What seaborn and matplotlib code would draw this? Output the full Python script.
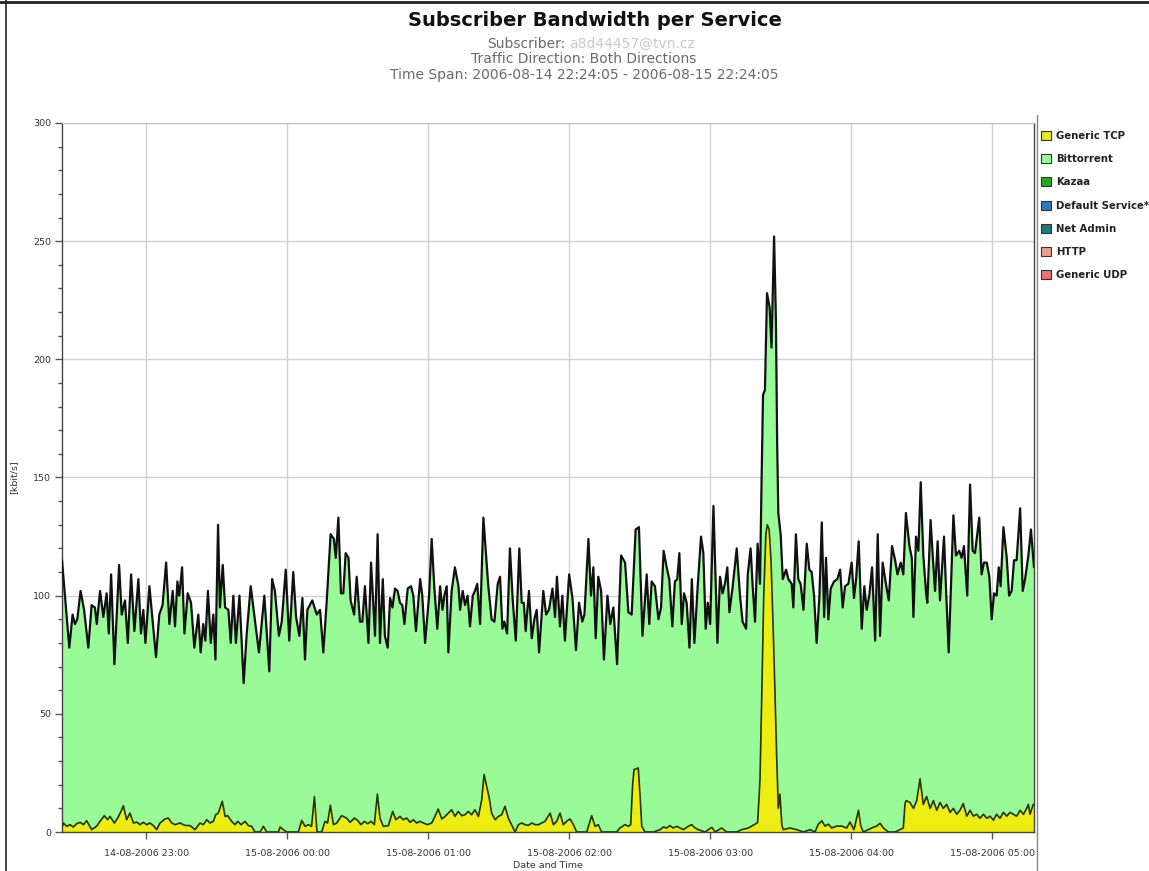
import matplotlib.pyplot as plt
import matplotlib.dates as mdates
import pandas as pd
import seaborn as sns
from matplotlib.lines import Line2D
from matplotlib.patches import Patch
from matplotlib.ticker import MultipleLocator

# time axis: minutes after the start of the window
start = pd.Timestamp("2006-08-14 22:24:05")
span_minutes = 413.6

# top of the stack (Generic TCP + Bittorrent), kbit/s
total_minutes = [
    0, 3.1, 4.5, 5.5, 6.5, 7.9, 9.4, 11.2, 12.6, 14.0,
    14.8, 16.2, 17.6, 19.0, 19.9, 20.9, 22.3, 24.3, 25.4, 26.8,
    28.0, 29.4, 30.8, 32.5, 33.6, 34.6, 35.5, 37.2, 38.6, 40.0,
    41.4, 42.8, 44.3, 45.7, 47.1, 48.1, 49.1, 49.9, 51.1, 52.1,
    53.5, 54.9, 56.3, 58.0, 59.0, 60.1, 61.0, 62.1, 63.3, 64.4,
    65.3, 66.4, 67.2, 68.4, 69.4, 70.8, 71.8, 72.9, 74.0, 75.5,
    77.3, 78.6, 80.3, 81.8, 83.8, 86.1, 88.2, 89.4, 90.6, 92.3,
    93.5, 95.2, 96.7, 98.4, 99.6, 101.0, 102.3, 103.4, 104.4, 106.5,
    108.4, 109.8, 111.2, 112.6, 114.3, 115.7, 116.5, 117.6, 118.7, 119.7,
    120.7, 121.9, 122.8, 124.3, 125.4, 126.8, 127.8, 128.9, 130.4, 131.5,
    133.2, 134.3, 135.3, 136.5, 137.4,
    138.6, 139.6, 140.6, 141.7, 142.8, 143.8, 144.8, 145.7, 147.1, 148.5,
    149.5, 150.6, 152.4, 153.3, 154.5, 156.2, 157.3, 158.4, 159.7, 160.9,
    161.9, 162.7, 163.7, 164.4, 165.8, 167.2, 168.7, 169.4, 170.5, 171.5,
    172.6, 173.6, 174.8, 175.7, 176.7, 177.9, 179.3, 180.3, 181.4, 182.8,
    184.0, 185.4, 186.4, 187.4, 188.2, 189.4, 190.6, 191.8, 193.1, 194.6,
    195.6, 196.5, 197.3, 198.7, 199.9, 201.0, 202.0, 203.0, 204.8, 206.0,
    207.2, 208.7, 209.8, 210.6, 211.9, 212.9, 214.0, 215.8, 217.2, 218.7,
    220.0, 221.4, 222.3, 224.0, 225.1, 226.1, 227.1, 228.2, 229.4, 230.6,
    232.1, 233.3, 234.6, 236.2, 237.9, 239.6, 241.0, 242.4, 244.1, 245.5,
    247.0, 248.8, 249.9, 250.9, 252.3, 253.8, 254.9, 256.0, 257.3, 258.4,
    259.7, 260.8, 261.8, 262.7, 263.7, 264.7, 265.8, 267.0, 268.0, 269.1,
    270.5, 271.9, 272.9, 273.9, 274.8, 275.8,
    277.2, 278.9, 280.0, 281.1, 282.1, 283.1, 284.0, 285.4, 287.1, 288.5,
    289.6, 291.1, 291.8, 293.0, 293.9, 294.9, 296.0, 297.0, 297.7, 298.3,
    299.1, 300.0, 301.1, 301.9, 303.0, 303.8, 304.3, 304.8, 305.8, 306.7,
    308.1, 309.1, 310.5, 311.2, 312.3, 313.3, 314.3, 315.5, 316.9, 318.0,
    319.0, 320.0, 321.1, 322.3, 323.3, 324.3, 325.1, 326.1, 327.1, 328.5,
    329.9, 331.1, 332.2, 333.2, 334.6, 336.0, 337.0, 337.9, 339.0, 340.3,
    341.4, 342.4, 343.5, 344.7, 346.0, 347.1, 348.1, 349.2, 350.6, 351.8,
    353.2, 354.5, 355.5, 356.9, 358.0, 359.1, 360.6, 361.6, 362.3, 363.4,
    364.4, 365.4, 366.5, 367.7, 368.2, 369.6, 370.5, 371.5, 372.6, 373.6,
    375.3, 376.2, 377.3, 378.2, 379.3, 380.4, 381.8, 382.8, 383.8, 385.2,
    386.4, 387.5, 388.5, 390.3, 391.3, 392.3, 393.5, 394.6, 395.6, 396.6,
    397.7, 398.6, 399.4, 400.6, 402.0, 403.0, 404.1, 405.1, 406.2, 407.7,
    408.8, 409.8, 411.2, 412.3, 413.6,
]
total_kbit = [
    115, 78, 92, 88, 90, 102, 94, 78, 96, 95,
    88, 102, 91, 101, 84, 109, 71, 113, 92, 98,
    80, 109, 85, 107, 84, 94, 80, 104, 89, 74,
    92, 96, 114, 88, 102, 87, 106, 100, 112, 84,
    101, 97, 78, 92, 76, 88, 81, 102, 80, 92,
    73, 130, 95, 113, 95, 94, 80, 100, 80, 100,
    63, 84, 104, 92, 76, 100, 68, 107, 102, 83,
    89, 111, 81, 110, 91, 83, 99, 73, 94, 98,
    92, 94, 76, 97, 126, 124, 116, 133, 101, 101,
    118, 116, 98, 92, 108, 89, 89, 104, 80, 114,
    83, 126, 80, 107, 83,
    78, 99, 95, 103, 102, 97, 96, 88, 103, 104,
    100, 85, 107, 100, 80, 100, 124, 104, 86, 104,
    94, 100, 104, 76, 102, 112, 104, 94, 102, 96,
    100, 87, 100, 102, 105, 88, 133, 119, 104, 90,
    89, 105, 108, 86, 89, 84, 120, 98, 81, 120,
    97, 97, 85, 102, 82, 90, 94, 76, 102, 92,
    94, 103, 91, 108, 87, 100, 81, 109, 99, 77,
    97, 89, 92, 124, 100, 112, 82, 108, 102, 73,
    100, 88, 95, 71, 117, 114, 93, 92, 128, 129,
    83, 109, 88, 106, 104, 90, 95, 119, 112, 107,
    87, 106, 107, 118, 88, 101, 97, 78, 107, 80,
    104, 125, 118, 86, 97, 88,
    138, 80, 108, 101, 105, 112, 93, 104, 120, 100,
    89, 86, 109, 120, 104, 89, 122, 105, 150, 185,
    187, 228, 222, 205, 252, 216, 165, 135, 126, 107,
    111, 107, 105, 95, 126, 107, 105, 94, 122, 111,
    110, 100, 80, 100, 131, 91, 116, 90, 103, 106,
    107, 111, 95, 104, 105, 114, 99, 107, 123, 86,
    104, 94, 100, 112, 81, 126, 83, 114, 105, 98,
    121, 115, 109, 114, 109, 135, 121, 116, 91, 125,
    119, 148, 117, 101, 97, 132, 117, 102, 123, 98,
    125, 102, 76, 102, 134, 117, 119, 116, 121, 100,
    147, 119, 118, 133, 109, 114, 114, 108, 90, 101,
    100, 112, 104, 129, 116, 100, 102, 115, 115, 137,
    102, 107, 117, 128, 112,
]

# Generic TCP (bottom layer), kbit/s
tcp_minutes = [
    0, 0.6, 2.0, 3.4, 4.8, 6.2, 7.7, 9.1, 10.5, 12.6,
    14.7, 16.2, 18.0, 19.4, 20.4, 22.3, 23.7, 25.1, 26.1, 27.5,
    28.9, 30.4, 31.8, 33.2, 34.6, 36.0, 37.4, 38.9, 40.3, 41.7,
    43.8, 45.2, 46.7, 48.1, 50.2, 52.3, 54.5, 56.6, 58.7, 60.1,
    61.6, 63.0, 64.4, 65.4, 66.5, 68.2, 69.4, 70.5, 72.2, 73.6,
    74.8, 76.2, 77.9, 79.3, 80.7, 82.1, 84.3, 85.7, 87.1, 92.1,
    92.8, 94.2, 95.6, 100.6, 102.0, 103.4, 104.8, 106.2, 107.4, 108.5,
    110.5, 111.9, 113.0, 114.2, 115.5, 116.9, 119.0, 121.1, 122.6, 124.4,
    125.8, 127.2, 128.7, 130.1, 131.5, 132.9,
    134.2, 135.3, 136.7, 138.9, 140.7, 142.1, 143.8, 145.2, 146.7, 148.1,
    149.5, 150.9, 152.3, 153.8, 155.5, 157.3, 158.7, 160.1, 161.6, 163.0,
    164.4, 165.8, 167.2, 168.6, 170.1, 171.5, 172.9, 174.3, 175.7, 177.2,
    178.6, 179.6, 180.7, 181.8, 182.8, 184.3, 185.7, 187.1, 188.5, 189.9,
    191.3, 192.8, 194.2, 195.6, 197.0, 198.4, 199.9, 201.3, 202.7, 204.1,
    205.5, 207.7, 209.1, 210.5, 211.9, 213.3, 214.7, 216.2, 217.6, 219.0,
    223.3, 224.0, 225.4, 226.8, 228.2, 229.6, 236.0, 237.4, 239.6, 241.0,
    242.0, 242.8, 243.4, 245.2, 246.0, 246.7, 248.1, 251.6, 254.5, 255.9,
    257.3, 258.7, 260.1, 261.6, 263.0, 264.4, 266.5, 267.9, 269.4, 270.8,
    273.6, 276.5, 277.9, 280.7, 282.8, 287.1, 289.2, 292.1, 293.5, 294.9,
    296.0, 297.0, 297.7, 298.6, 299.5, 300.1, 300.9, 301.7, 302.5, 303.3,
    304.1, 304.8, 305.5, 306.3, 306.9, 309.8, 312.6, 315.5, 318.3, 320.4,
    321.8, 323.3, 324.7, 326.1, 327.5, 329.6, 331.8, 333.9, 335.3, 337.0,
    338.9, 339.9, 341.0, 343.1, 345.2, 346.7, 348.1, 349.5, 351.6, 354.5,
    356.6, 358.0, 358.7, 359.2, 360.8, 362.3, 363.7, 365.1, 366.5, 367.9,
    369.4, 370.8, 372.2, 373.6, 375.0, 376.4, 377.9, 379.3, 380.7, 382.1,
    383.5, 385.0, 386.4, 387.8, 389.2, 390.6, 392.1, 393.5, 394.9, 396.3,
    397.7, 399.1, 400.6, 402.0, 403.4, 404.8, 406.2, 407.7, 409.1, 410.5,
    411.2, 411.9, 413.3,
]
tcp_kbit = [
    2, 3.8, 2.4, 3.1, 2.1, 3.5, 4.1, 3.1, 4.8, 1,
    2.4, 4.5, 6.9, 5.2, 6.6, 3.8, 5.9, 8.7, 11.1, 5.2,
    8, 3.8, 4.2, 3.1, 4.1, 3.1, 3.8, 2.7, 1, 3.8,
    5.5, 5.9, 3.8, 3.1, 3.8, 2.8, 2.7, 1, 3.8, 3.1,
    5.2, 3.8, 4.5, 7.3, 8, 13, 6.6, 6.9, 4.5, 3.1,
    4.5, 3.1, 4.5, 2.7, 2.4, 0, 0, 2.4, 0, 0,
    2.1, 1, 0, 0, 4.9, 2.4, 3.1, 2.4, 15, 0,
    0, 4.5, 3.8, 11.3, 3.1, 3.8, 6.9, 5.9, 4.1, 5.9,
    4.9, 3.1, 4.5, 3.5, 4.5, 3.1,
    16, 5.9, 2.4, 2.7, 8.7, 5.2, 6.6, 5.2, 5.9, 4.1,
    5.2, 3.8, 4.5, 3.8, 3.1, 3.8, 6.6, 9.7, 5.5, 6.6,
    8, 9.4, 6.6, 8.7, 6.9, 7.3, 8.7, 7.3, 9.4, 6.6,
    13.7, 24.3, 19.3, 14.4, 8, 5.2, 6.6, 7.3, 10.9, 5.9,
    3.1, 0, 3.1, 3.8, 3.1, 2.8, 3.8, 3.1, 3.1, 3.8,
    4.5, 8, 3.1, 4.5, 8, 3.1, 4.5, 5.5, 3.1, 0,
    0, 2.4, 6.9, 2.4, 3.1, 0, 0, 1.7, 3.1, 2.4,
    3.1, 20, 26.4, 27.1, 15, 2.4, 0, 0, 1, 2.1,
    1.7, 2.7, 1.7, 2.4, 1.7, 1, 2.4, 3.1, 1.7, 1,
    0, 2, 0, 1.7, 0, 0, 1, 1.7, 2.5, 3.3,
    4, 22, 55, 100, 126, 130, 128, 115, 90, 62,
    32, 10, 16, 3, 1, 1.7, 1, 0, 1, 0,
    3.3, 4.7, 2.5, 3.3, 1.7, 2.5, 2.5, 1.7, 4.2, 1,
    9.2, 2.5, 0, 1, 2, 2.5, 3.7, 1.7, 0, 0,
    1, 1.7, 12, 13.3, 12.5, 10, 13.3, 22.5, 11.7, 15,
    10, 13.3, 9.2, 12.5, 10, 11.7, 8.3, 10, 7.5, 9.2,
    12, 6.7, 9.2, 6.7, 7.5, 5.8, 7.5, 5.8, 6.7, 5,
    7.5, 5.8, 8.3, 6.7, 8.3, 7.5, 6.7, 9.2, 7.5, 10,
    11.7, 7.5, 11.7,
]

services = ["Generic TCP", "Bittorrent", "Kazaa", "Default Service*",
            "Net Admin", "HTTP", "Generic UDP"]
service_colors = ["#e8e81a", "#98fb98", "#22aa22", "#2f78c0",
                  "#1f7a78", "#e8a08c", "#ee6f78"]

assert len(total_minutes) == len(total_kbit)
assert len(tcp_minutes) == len(tcp_kbit)

df_total = pd.DataFrame({"time": start + pd.to_timedelta(total_minutes, unit="min"),
                         "kbit": total_kbit})
df_tcp = pd.DataFrame({"time": start + pd.to_timedelta(tcp_minutes, unit="min"),
                       "kbit": tcp_kbit})

sns.set_style("ticks")
plt.rcParams["font.family"] = ["DejaVu Sans"]

W, H = 1149, 871
fig = plt.figure(figsize=(W / 100, H / 100), dpi=100)
ax = fig.add_axes([62 / W, 1 - 832 / H, 972 / W, 709 / H])

# stacked areas: green up to the total, yellow TCP on top of it
ax.fill_between(df_total["time"], 0, df_total["kbit"], color="#98fb98", lw=0, zorder=1)
sns.lineplot(data=df_total, x="time", y="kbit", ax=ax, color="#111111",
             linewidth=1.6, estimator=None, zorder=3)
ax.fill_between(df_tcp["time"], 0, df_tcp["kbit"], color="#eded12", lw=0, zorder=2)
sns.lineplot(data=df_tcp, x="time", y="kbit", ax=ax, color="#2b3300",
             linewidth=1.2, estimator=None, zorder=4)

ax.set_xlim(start, start + pd.Timedelta(minutes=span_minutes))
ax.set_ylim(0, 300)
ax.yaxis.set_major_locator(MultipleLocator(50))
ax.yaxis.set_minor_locator(MultipleLocator(10))
ax.xaxis.set_major_locator(mdates.HourLocator())
ax.xaxis.set_major_formatter(mdates.DateFormatter("%d-%m-%Y %H:%M"))

ax.set_axisbelow(True)
ax.grid(True, which="major", color="#d0d0d0", lw=1)
ax.tick_params(axis="both", which="major", labelsize=6.8, labelcolor="#333333",
               color="#555555", length=5, width=1, direction="out")
ax.tick_params(axis="x", pad=7)
ax.tick_params(axis="y", pad=3)
ax.tick_params(axis="y", which="minor", length=3, width=1, color="#555555", left=True)
ax.tick_params(axis="x", which="minor", bottom=False)

for side in ["left", "bottom", "right"]:
    ax.spines[side].set_color("#444444")
    ax.spines[side].set_linewidth(1)
ax.spines["top"].set_color("#c0c0c0")

ax.set_xlabel("Date and Time", fontsize=6.8, color="#333333")
ax.set_ylabel("[kbit/s]", fontsize=6.8, color="#333333")
ax.xaxis.set_label_coords(0.5, -0.041)
ax.yaxis.set_label_coords(-0.045, 0.5)

# titles
fig.text(595 / W, 1 - 20 / H, "Subscriber Bandwidth per Service", ha="center", va="center",
         fontsize=14, fontweight="bold", color="#111111")
fig.text(565 / W, 1 - 44 / H, "Subscriber:", ha="right", va="center", fontsize=10, color="#6a6a6a")
fig.text(569 / W, 1 - 44 / H, "a8d44457@tvn.cz", ha="left", va="center", fontsize=10,
         color="#c4cad8")
fig.text(584 / W, 1 - 59 / H, "Traffic Direction: Both Directions", ha="center", va="center",
         fontsize=10, color="#6a6a6a")
fig.text(584 / W, 1 - 75 / H, "Time Span: 2006-08-14 22:24:05 - 2006-08-15 22:24:05",
         ha="center", va="center", fontsize=10, color="#6a6a6a")

# legend on the right
handles = [Patch(facecolor=c, edgecolor="#333333", linewidth=0.8) for c in service_colors]
fig.legend(handles, services, loc="upper left", bbox_to_anchor=(1041 / W, 1 - 131 / H),
           frameon=False, prop={"size": 7.3, "weight": "bold"}, labelcolor="#222222",
           handlelength=1.0, handleheight=1.0, labelspacing=1.3, handletextpad=0.5,
           borderaxespad=0, borderpad=0)

# screenshot frame lines
fig.add_artist(Line2D([0, 1], [1 - 2 / H, 1 - 2 / H], color="#222222", lw=2,
                      transform=fig.transFigure))
fig.add_artist(Line2D([6 / W, 6 / W], [0, 1], color="#222222", lw=1.2,
                      transform=fig.transFigure))
fig.add_artist(Line2D([1037 / W, 1037 / W], [0, 1 - 115 / H], color="#888888", lw=1,
                      transform=fig.transFigure))

fig.savefig("out.png", dpi=100)
